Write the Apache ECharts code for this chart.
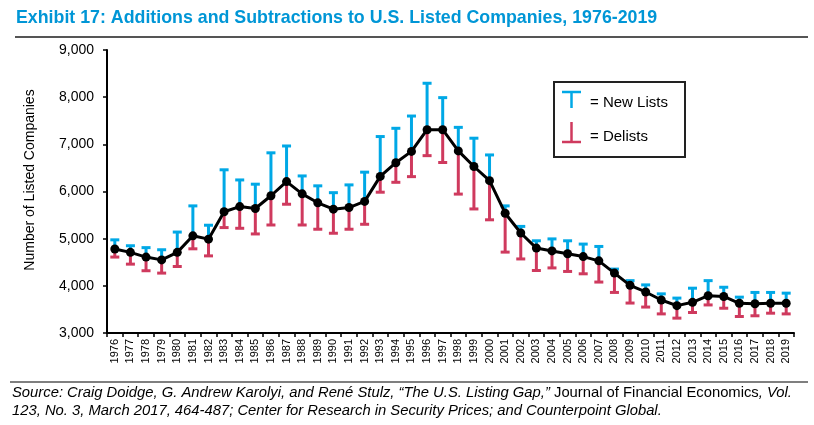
<!DOCTYPE html>
<html>
<head>
<meta charset="utf-8">
<script src="https://cdn.jsdelivr.net/npm/echarts@6/dist/echarts.min.js"></script>
<style>html,body{margin:0;padding:0;background:#fff;}#c{width:814px;height:425px;}</style>
</head>
<body>
<div id="c"></div>
<script>
const years = ['1976','1977','1978','1979','1980','1981','1982','1983','1984','1985','1986','1987','1988','1989','1990','1991','1992','1993','1994','1995','1996','1997','1998','1999','2000','2001','2002','2003','2004','2005','2006','2007','2008','2009','2010','2011','2012','2013','2014','2015','2016','2017','2018','2019'];
const listed = [4780,4710,4610,4550,4710,5060,4990,5570,5680,5640,5910,6210,5950,5760,5625,5660,5790,6320,6610,6850,7310,7310,6860,6530,6230,5540,5120,4800,4740,4680,4620,4530,4270,4010,3870,3700,3580,3650,3790,3775,3630,3620,3630,3630];
const newLists = [195,140,200,215,430,635,295,890,565,515,910,755,380,360,350,480,620,845,730,750,985,680,500,600,545,155,140,155,255,275,265,305,85,100,150,130,160,300,320,195,130,240,230,215];
const delists = [170,250,290,280,300,275,355,335,460,540,620,480,660,560,510,460,485,335,415,535,550,695,915,900,830,825,550,475,360,375,365,450,410,375,320,295,265,215,195,250,280,255,210,225];
const yTicks = [3000,4000,5000,6000,7000,8000,9000];

const BLUE = '#00A8E6';
const RED = '#CF3A5E';
const SANS = '"Liberation Sans",Arial,sans-serif';

const upData = listed.map((v,i)=>[i, v, v + newLists[i]]);
const downData = listed.map((v,i)=>[i, v, v - delists[i]]);

function errRender(color){
  return function(params, api){
    const a = api.coord([api.value(0), api.value(1)]);
    const b = api.coord([api.value(0), api.value(2)]);
    const hw = 4.5;
    return {type:'group', children:[
      {type:'line', shape:{x1:a[0],y1:a[1],x2:a[0],y2:b[1]}, style:{stroke:color,lineWidth:3}},
      {type:'line', shape:{x1:a[0]-hw,y1:b[1],x2:a[0]+hw,y2:b[1]}, style:{stroke:color,lineWidth:3}}
    ]};
  };
}

const chart = echarts.init(document.getElementById('c'));
chart.setOption({
  animation:false,
  backgroundColor:'#fff',
  grid:{left:107, right:20, top:50, bottom:92},
  xAxis:{
    type:'category', data:years, boundaryGap:true,
    axisLine:{lineStyle:{color:'#000', width:2}},
    axisTick:{show:true, alignWithLabel:false, length:4, lineStyle:{color:'#000', width:1.5}},
    axisLabel:{rotate:90, interval:0, color:'#000', fontFamily:SANS, fontSize:11, margin:6}
  },
  yAxis:{
    type:'value', min:3000, max:9000, interval:1000,
    axisLine:{show:true, lineStyle:{color:'#000', width:2}},
    axisTick:{show:true, length:4, lineStyle:{color:'#000', width:1.5}},
    splitLine:{show:false},
    axisLabel:{color:'#000', fontFamily:SANS, fontSize:14, margin:13,
      formatter:v=> yTicks.includes(v) ? v.toLocaleString('en-US') : ''}
  },
  series:[
    {type:'custom', renderItem:errRender(BLUE), data:upData, encode:{x:0,y:[1,2]}, z:2},
    {type:'custom', renderItem:errRender(RED), data:downData, encode:{x:0,y:[1,2]}, z:2},
    {type:'line', data:listed, z:5, symbol:'circle', symbolSize:9,
      lineStyle:{color:'#000', width:3}, itemStyle:{color:'#000'}}
  ],
  graphic:[
    {type:'text', left:16, top:9, style:{text:'Exhibit 17: Additions and Subtractions to U.S. Listed Companies, 1976-2019',
      fill:'#0096D6', font:'bold 17.8px '+SANS}},
    {type:'line', shape:{x1:15,y1:37,x2:808,y2:37}, style:{stroke:'#555', lineWidth:2}},
    {type:'text', x:30, y:180, rotation:Math.PI/2, style:{text:'Number of Listed Companies', fill:'#000',
      font:'14px '+SANS, align:'center', verticalAlign:'middle'}},
    {type:'line', shape:{x1:10,y1:382,x2:808,y2:382}, style:{stroke:'#555', lineWidth:1.5}},
    {type:'text', left:12, top:385, style:{
      text:'{i|Source: Craig Doidge, G. Andrew Karolyi, and René Stulz, “The U.S. Listing Gap,” }{n|Journal of Financial Economics}{i|, Vol.}\n{i|123, No. 3, March 2017, 464-487; Center for Research in Security Prices; and Counterpoint Global.}',
      rich:{
        i:{font:'italic 14.8px '+SANS, fill:'#000', lineHeight:18},
        n:{font:'14.8px '+SANS, fill:'#000', lineHeight:18}
      }}},
    {type:'rect', shape:{x:554,y:82,width:131,height:75}, style:{fill:'#fff', stroke:'#222', lineWidth:2}, z:10},
    {type:'line', shape:{x1:571.5,y1:91,x2:571.5,y2:108}, style:{stroke:BLUE, lineWidth:2.5}, z:11},
    {type:'line', shape:{x1:562,y1:92,x2:581,y2:92}, style:{stroke:BLUE, lineWidth:2.5}, z:11},
    {type:'text', left:590, top:95, style:{text:'= New Lists', fill:'#000', font:'15px '+SANS}, z:11},
    {type:'line', shape:{x1:571.5,y1:122,x2:571.5,y2:143}, style:{stroke:RED, lineWidth:2.5}, z:11},
    {type:'line', shape:{x1:562,y1:142,x2:581,y2:142}, style:{stroke:RED, lineWidth:2.5}, z:11},
    {type:'text', left:590, top:129, style:{text:'= Delists', fill:'#000', font:'15px '+SANS}, z:11}
  ]
});
</script>
</body>
</html>
